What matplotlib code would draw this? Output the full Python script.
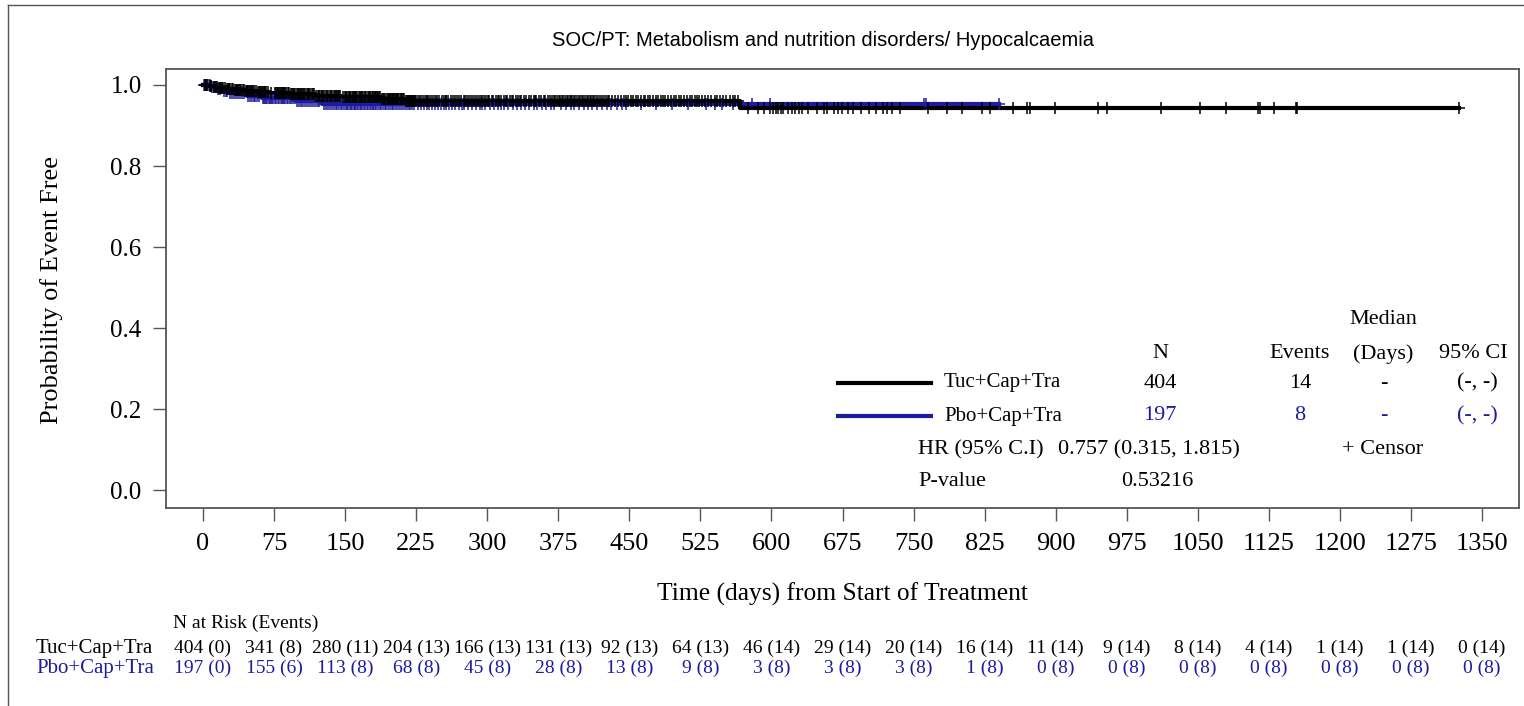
import numpy as np
import matplotlib
matplotlib.use("Agg")
import matplotlib.pyplot as plt
from matplotlib.lines import Line2D
from matplotlib import transforms

W, H = 1524, 706
BLUE = '#1c1ca0'
GREY = '#555555'
SERIF = 'Liberation Serif'

# ---- data ----
time_ticks = [0, 75, 150, 225, 300, 375, 450, 525, 600, 675, 750, 825,
              900, 975, 1050, 1125, 1200, 1275, 1350]
surv_ticks = [0.0, 0.2, 0.4, 0.6, 0.8, 1.0]

groups = ['Tuc+Cap+Tra', 'Pbo+Cap+Tra']

# Kaplan-Meier steps (day of event, survival after it), last point = last follow-up
tuc_days = [0, 6, 11, 16, 24, 33, 44, 57, 70, 92, 118, 146, 188, 213, 567, 1326]
tuc_surv = [1.0, 0.9975, 0.9950, 0.9925, 0.9900, 0.9874, 0.9848, 0.9821, 0.9794,
            0.9766, 0.9735, 0.9703, 0.9660, 0.9605, 0.9440, 0.9440]
pbo_days = [0, 9, 14, 20, 27, 46, 62, 98, 126, 840]
pbo_surv = [1.0, 0.9949, 0.9898, 0.9847, 0.9795, 0.9740, 0.9683, 0.9614, 0.9540, 0.9540]

tuc_censor = [
    2, 3, 4, 7, 8, 9, 12, 13, 14, 15, 17, 18, 19, 20, 21, 23, 25, 26, 27, 28, 29, 31, 32,
    34, 35, 36, 37, 38, 39, 40, 42, 43, 45, 46, 47, 48, 49, 50, 51, 52, 53, 54, 56, 58, 59,
    60, 61, 62, 63, 64, 65, 66, 67, 69, 72,
    76, 77, 78, 79, 80, 81, 82, 83, 84, 85, 86, 87, 88, 90, 91, 93, 94, 95, 96, 97, 99, 100,
    101, 102, 104, 105, 106, 107, 108, 110, 111, 112, 113, 115, 116, 117, 119, 121, 122, 123,
    125, 126, 127, 128, 130, 131, 132, 134, 135, 136, 138, 139, 140, 142, 143, 144, 145, 148,
    150, 151, 151, 153, 154, 155, 155, 157, 158, 159, 161, 161, 162, 163, 165, 166, 167, 168,
    168, 170, 171, 172, 174, 175, 176, 176, 178, 179, 180, 182, 182, 183, 184, 186, 187, 189,
    190, 191, 192, 194, 195, 196, 197, 197, 199, 200, 201, 203, 204, 205, 206, 206, 208, 209,
    211, 212, 214, 215, 216, 217, 218, 219, 220, 221, 221, 222, 223, 223, 224, 224, 216, 210,
    202, 185,
    226, 228, 229, 231, 233, 235, 236, 238, 240, 242, 244, 246, 247, 249, 252, 254, 256, 257,
    259, 262, 264, 266, 268, 270, 272, 275, 277, 279, 281, 283, 285, 287, 289, 291, 293, 295,
    297, 299,
    301, 302, 305, 306, 309, 311, 312, 315, 318, 320, 321, 324, 326, 327, 330, 333, 335, 336,
    339, 341, 344, 346, 349, 350, 352, 355, 357, 360, 361, 364, 366, 368, 370, 372, 374,
    376, 377, 379, 380, 382, 384, 385, 387, 388, 390, 392, 393, 395, 397, 398, 400, 401, 403,
    405, 406, 408, 410, 412, 413, 415, 417, 419, 421, 423, 425, 427, 429, 432, 435, 438, 441,
    444, 446, 449,
    452, 454, 457, 459, 462, 465, 467, 470, 472, 475, 478, 480, 483, 486, 488, 491, 494, 497,
    499, 502, 505, 508, 511, 514, 516, 519, 521, 524,
    527, 530, 533, 536, 540, 543, 546, 549, 552, 556, 559, 562, 565, 575, 586, 592, 598,
    602, 605, 607, 610, 612, 617, 622, 625, 629, 632, 639, 648, 656, 659, 666, 670, 674,
    681, 686, 695, 703, 710, 718, 722, 727, 736,
    765, 785, 801, 822, 831, 855, 870, 873, 899, 945, 954, 1011,
    1052, 1080, 1114, 1116, 1130, 1154, 1155, 1326]

pbo_censor = [
    1, 3, 5, 7, 10, 12, 16, 18, 22, 24, 25, 29, 31, 33, 35, 37, 39, 41, 43, 48, 50, 52, 54,
    55, 57, 59, 63, 64, 66, 67, 68, 70, 71, 72, 73, 74,
    76, 77, 79, 80, 82, 83, 84, 86, 87, 89, 90, 92, 93, 95, 97, 99, 101, 103, 105, 107, 109,
    111, 113, 115, 117, 119, 121, 123, 128, 130, 132, 134, 136, 138, 140, 142, 144, 146, 147, 149,
    151, 152, 153, 155, 156, 157, 159, 160, 161, 163, 164, 166, 167, 168, 170, 171, 173, 174,
    176, 177, 179, 180, 182, 183, 185, 187, 188, 190, 192, 193, 195, 197, 199, 201, 203, 205,
    207, 209, 211, 213, 215, 217, 219, 221, 223,
    227, 230, 233, 236, 239, 242, 245, 248, 251, 254, 257, 260, 263, 266, 270, 273, 276, 280,
    284, 288, 292, 295, 298,
    303, 307, 311, 315, 318, 322, 327, 331, 336, 340, 344, 349, 353, 358, 362, 367, 371,
    378, 383, 388, 392, 397, 402, 406, 411, 416, 421, 426, 431, 437, 442, 447,
    462, 478, 495, 512, 531, 540, 548, 559, 580, 598, 761, 763, 840]

tuc_at_risk = [404, 341, 280, 204, 166, 131, 92, 64, 46, 29, 20, 16, 11, 9, 8, 4, 1, 1, 0]
tuc_events = [0, 8, 11, 13, 13, 13, 13, 13, 14, 14, 14, 14, 14, 14, 14, 14, 14, 14, 14]
pbo_at_risk = [197, 155, 113, 68, 45, 28, 13, 9, 3, 3, 3, 1, 0, 0, 0, 0, 0, 0, 0]
pbo_events = [0, 6, 8, 8, 8, 8, 8, 8, 8, 8, 8, 8, 8, 8, 8, 8, 8, 8, 8]

n_total = [404, 197]
n_events = [14, 8]
median_days = ['-', '-']
median_ci = ['(-, -)', '(-, -)']
hr_text = '0.757 (0.315, 1.815)'
p_value = '0.53216'


def surv_at(t, days, surv):
    idx = np.searchsorted(days, t, side='right') - 1
    return np.asarray(surv)[idx]


fig = plt.figure(figsize=(W / 100, H / 100), dpi=100)
ax = fig.add_axes([166 / W, 1 - 508 / H, (1519 - 166) / W, (508 - 69) / H])

ax.step(pbo_days, pbo_surv, where='post', color=BLUE, lw=3, zorder=2)
ax.step(tuc_days, tuc_surv, where='post', color='black', lw=3, zorder=3)
ax.plot(pbo_censor, surv_at(pbo_censor, pbo_days, pbo_surv), ls='none', marker='+',
        color=BLUE, ms=9, mew=1.1, zorder=4)
ax.plot(tuc_censor, surv_at(tuc_censor, tuc_days, tuc_surv), ls='none', marker='+',
        color='black', ms=9, mew=1.1, zorder=5)

ax.set_xlim(-39, 1389)
ax.set_ylim(-0.0444, 1.0395)
ax.set_xticks(time_ticks)
ax.set_xticklabels([str(t) for t in time_ticks], fontsize=19, family=SERIF)
ax.set_yticks(surv_ticks)
ax.set_yticklabels([f'{v:.1f}' for v in surv_ticks], fontsize=18, family=SERIF)
ax.tick_params(axis='x', direction='out', length=9, width=1, color=GREY, pad=9)
ax.tick_params(axis='y', direction='out', length=9.5, width=1, color=GREY, pad=8)
for sp in ax.spines.values():
    sp.set_color(GREY)
    sp.set_linewidth(1.3)


def ftext(x, y, s, **kw):
    kw.setdefault('family', SERIF)
    kw.setdefault('va', 'center')
    fig.text(x / W, 1 - y / H, s, **kw)


# titles and axis labels
ftext(823, 40, 'SOC/PT: Metabolism and nutrition disorders/ Hypocalcaemia',
      family='Liberation Sans', fontsize=14.5, ha='center')
ftext(52, 290, 'Probability of Event Free', fontsize=19, rotation=90, ha='center')
ftext(842, 594, 'Time (days) from Start of Treatment', fontsize=18.4, ha='center')

# statistics box
fs = 16
ftext(1383, 320, 'Median', fontsize=fs, ha='center')
for x, s in zip([1160, 1300, 1383, 1473], ['N', 'Events', '(Days)', '95% CI']):
    ftext(x, 354, s, fontsize=fs, ha='center')
for i, (y, col) in enumerate(zip([383, 416], ['black', BLUE])):
    fig.add_artist(Line2D([838 / W, 931 / W], [1 - y / H, 1 - y / H], color=col, lw=3))
    ftext(944, y, groups[i], fontsize=15, ha='left')
    ftext(1160, y, str(n_total[i]), fontsize=fs, ha='center', color=col)
    ftext(1300, y, str(n_events[i]), fontsize=fs, ha='center', color=col)
    ftext(1384, y, median_days[i], fontsize=fs, ha='center', color=col)
    ftext(1477, y, median_ci[i], fontsize=fs, ha='center', color=col)
ftext(918, 450, 'HR (95% C.I)', fontsize=fs, ha='left')
ftext(1058, 450, hr_text, fontsize=fs, ha='left')
ftext(1383, 450, '+ Censor', fontsize=fs, ha='center')
ftext(918, 481, 'P-value', fontsize=fs, ha='left')
ftext(1157, 481, p_value, fontsize=fs, ha='center')

# number at risk table
ftext(173, 623, 'N at Risk (Events)', fontsize=14, ha='left')
trans = transforms.blended_transform_factory(ax.transData, fig.transFigure)
rows = [(tuc_at_risk, tuc_events, 648, 'black'), (pbo_at_risk, pbo_events, 668, BLUE)]
for i, (risk, ev, y, col) in enumerate(rows):
    ftext(36, y, groups[i], fontsize=15, ha='left', color=col)
    for t, n, e in zip(time_ticks, risk, ev):
        ax.text(t, 1 - y / H, f'{n} ({e})', transform=trans, fontsize=14, family=SERIF,
                ha='center', va='center', color=col, clip_on=False)

# page border
fig.add_artist(Line2D([8 / W, 8 / W], [0, 1 - 5 / H], color=GREY, lw=1))
fig.add_artist(Line2D([8 / W, 1], [1 - 5 / H, 1 - 5 / H], color=GREY, lw=1))

fig.savefig('out.png', dpi=100)
